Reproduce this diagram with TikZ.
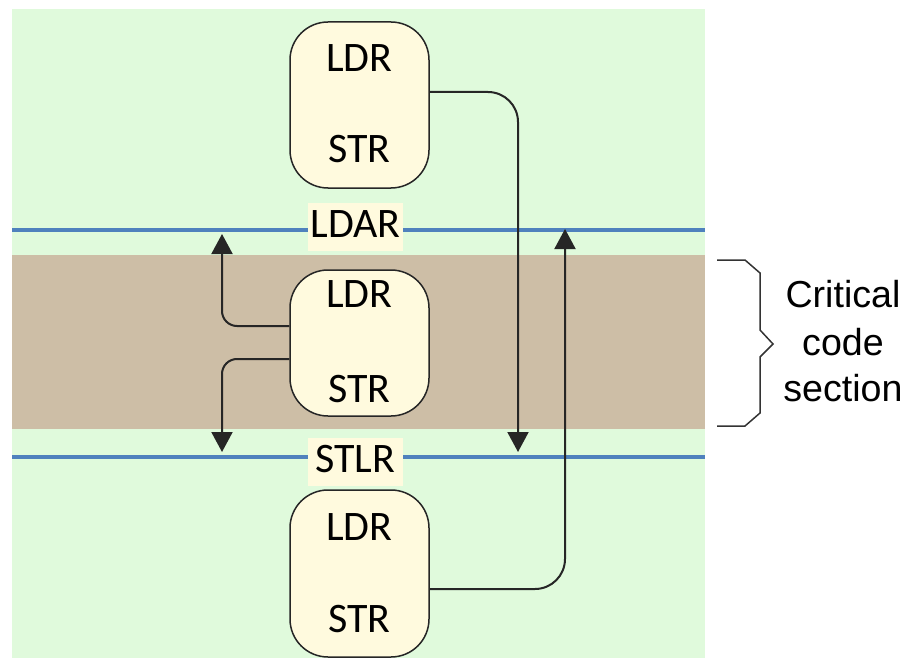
\documentclass[tikz,border=0pt]{standalone}
\usepackage{fontspec}
\setmainfont{Carlito}
\newfontfamily\arialf{Liberation Sans}
\usetikzlibrary{arrows.meta}
\definecolor{bggreen}{RGB}{224,250,220}
\definecolor{bandbrown}{RGB}{205,190,166}
\definecolor{boxfill}{RGB}{255,250,222}
\definecolor{barblue}{RGB}{79,129,189}
\begin{document}
\begin{tikzpicture}[x=1pt,y=-1pt,
  instr/.style={rounded corners=38pt, draw=black!85, line width=1.5pt, fill=boxfill, minimum width=139pt, inner sep=0pt},
  op/.style={font=\fontsize{42}{42}\selectfont, inner sep=0pt, anchor=base},
  fencebg/.style={fill=boxfill, inner sep=0pt, minimum width=95pt, minimum height=48pt},
  bar/.style={draw=barblue, line width=4pt},
  flow/.style={draw=black!85, line width=2pt, -{Triangle[width=21pt,length=20pt]}},
  crit/.style={font=\arialf\fontsize{37.6}{46}\selectfont, inner sep=0pt, anchor=base}
]
\useasboundingbox (0,0) rectangle (913,658);
% backgrounds
\fill[bggreen] (12,9) rectangle (705,658);
\fill[bandbrown] (12,255) rectangle (705,429);
% fence lines
\draw[bar] (12,230) -- (705,230);
\draw[bar] (12,457) -- (705,457);
% fence labels
\node[fencebg] (ldar) at (355.5,227) {};
\node[op] (ldart) at (355.5,237) {LDAR};
\node[fencebg] (stlr) at (355,461.5) {};
\node[op] (stlrt) at (355,472) {STLR};
% instruction boxes
\node[instr, minimum height=166pt] (b1) at (359.5,105) {};
\node[op] (b1l) at (359.5,72) {LDR};
\node[op] (b1s) at (359.5,163) {STR};
\node[instr, minimum height=146pt] (b2) at (359.5,343) {};
\node[op] (b2l) at (359.5,307) {LDR};
\node[op] (b2s) at (359.5,402) {STR};
\node[instr, minimum height=167pt] (b3) at (359.5,573.5) {};
\node[op] (b3l) at (359.5,540) {LDR};
\node[op] (b3s) at (359.5,632) {STR};
% arrow end points
\coordinate (tA) at (518,452);
\coordinate (tB) at (565,229);
\coordinate (tC) at (222,234);
\coordinate (tD) at (222,452);
% arrows
\draw[flow, rounded corners=30pt] ([yshift=13pt]b1.east) -| (tA);
\draw[flow, rounded corners=30pt] ([yshift=-15.5pt]b3.east) -| (tB);
\draw[flow, rounded corners=15pt] ([yshift=17pt]b2.west) -| (tC);
\draw[flow, rounded corners=15pt] ([yshift=-16pt]b2.west) -| (tD);
% brace
\draw[line width=1.5pt, black!80, line join=miter]
  (717,260) -- (745,260) -- (760,273) -- (760,330) -- (773,344) -- (760,357) -- (760,413) -- (745,426) -- (717,426);
\node[crit] (c1) at (843,307) {Critical};
\node[crit] (c2) at (843,355) {code};
\node[crit] (c3) at (843,401) {section};
\end{tikzpicture}
\end{document}
